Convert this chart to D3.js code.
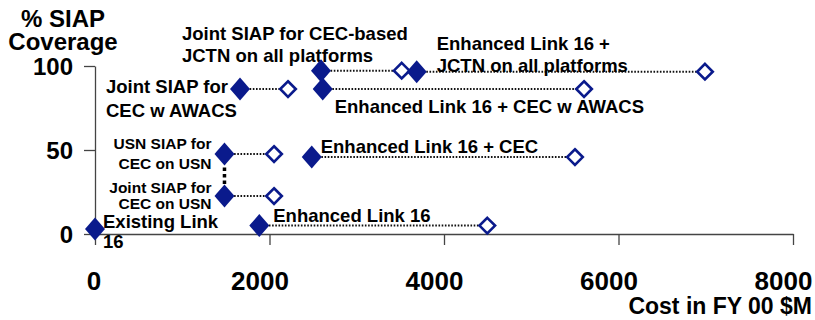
<!DOCTYPE html>
<html>
<head>
<meta charset="utf-8">
<script src="https://cdn.jsdelivr.net/npm/d3@7"></script>
<style>
  body { margin: 0; background: #fff; }
  text { font-family: "Liberation Sans", Arial, sans-serif; font-weight: bold; fill: #000; }
</style>
</head>
<body>
<svg id="chart" width="815" height="320"></svg>
<script>
// options, cost in FY00 $M and % SIAP coverage
const options = ["Existing Link 16", "Enhanced Link 16", "Joint SIAP CEC USN", "USN SIAP CEC USN",
    "Enhanced Link 16 + CEC", "Joint SIAP CEC AWACS", "Enhanced Link 16 + CEC AWACS",
    "Joint SIAP CEC JCTN", "Enhanced Link 16 + JCTN"];
const baseCost    = [0, 1883, 1484, 1484, 2484, 1662, 2610, 2590, 3687];
const upgradeCost = [null, 4496, 2052, 2052, 5501, 2212, 5605, 3515, 6991];
const coverage    = [3, 5, 22.6, 47.6, 45.8, 86.3, 86.3, 97.2, 96.6];
const labelLines = [
    ["Existing Link", "16"],
    ["Enhanced Link 16"],
    ["Joint SIAP for", "CEC on USN"],
    ["USN SIAP for", "CEC on USN"],
    ["Enhanced Link 16 + CEC"],
    ["Joint SIAP for", "CEC w AWACS"],
    ["Enhanced Link 16 + CEC w AWACS"],
    ["Joint SIAP for CEC-based", "JCTN on all platforms"],
    ["Enhanced Link 16 +", "JCTN on all platforms"]
];
// the two USN options are joined by a heavy dotted link
const linkedPair = [2, 3];

const xTicks = [0, 2000, 4000, 6000, 8000];
const yTicks = [0, 50, 100];

// label placement relative to the filled marker (dx, dy of first baseline, line height)
const labelLayout = [
    { dx: 8, dy: -0.5, lh: 20, anchor: "start", size: 18.5 },
    { dx: 14, dy: -3.5, lh: 20, anchor: "start", size: 18.5 },
    { dx: -13, dy: -3, lh: 16, anchor: "end", size: 15.5 },
    { dx: -13, dy: -5, lh: 20, anchor: "end", size: 15.5 },
    { dx: 9, dy: -4, lh: 20, anchor: "start", size: 18.5 },
    { dx: -134, dy: 4, lh: 23.5, anchor: "start", size: 18.5 },
    { dx: 12, dy: 24, lh: 20, anchor: "start", size: 18.5 },
    { dx: -139, dy: -30.5, lh: 22, anchor: "start", size: 18.5 },
    { dx: 20, dy: -21.5, lh: 22, anchor: "start", size: 18.5 }
];

const navy = "#0a1a8c";

const svg = d3.select("#chart");

const x = d3.scaleLinear().domain([0, 8000]).range([95, 793]);
const y = d3.scaleLinear().domain([0, 100]).range([234, 66]);

function diamond(cx, cy, hw, hh) {
    return `M${cx},${cy - hh}L${cx + hw},${cy}L${cx},${cy + hh}L${cx - hw},${cy}Z`;
}

// axes
const xAxisG = svg.append("g")
    .attr("transform", `translate(0,${y(0)})`)
    .call(d3.axisBottom(x).tickValues(xTicks).tickSize(11).tickSizeOuter(0).tickFormat(d3.format("d")));
const yAxisG = svg.append("g")
    .attr("transform", `translate(${x(0)},0)`)
    .call(d3.axisLeft(y).tickValues(yTicks).tickSize(11).tickPadding(11).tickSizeOuter(0));

[xAxisG, yAxisG].forEach(g => {
    g.attr("font-family", null).attr("font-size", null);
    g.selectAll("path, line").attr("stroke", "#444").attr("stroke-width", 1.3);
});
xAxisG.selectAll(".tick text")
    .attr("y", 56).attr("dy", 0)
    .attr("dx", d => d === 0 ? -1.5 : -10)
    .style("font-size", "26px");
yAxisG.selectAll(".tick text")
    .attr("dy", "0.36em")
    .style("font-size", "24px");

// axis titles
svg.append("text")
    .attr("x", 63).attr("y", 27)
    .attr("text-anchor", "middle")
    .style("font-size", "24px")
    .text("% SIAP");
svg.append("text")
    .attr("x", 63).attr("y", 50)
    .attr("text-anchor", "middle")
    .style("font-size", "24px")
    .text("Coverage");
svg.append("text")
    .attr("x", 812).attr("y", 314)
    .attr("text-anchor", "end")
    .style("font-size", "23px")
    .text("Cost in FY 00 $M");

const idx = d3.range(options.length);
const upg = idx.filter(i => upgradeCost[i] !== null);

// dotted links from baseline option to upgraded option
svg.append("g").selectAll("line")
    .data(upg)
    .enter()
    .append("line")
    .attr("x1", i => x(baseCost[i]))
    .attr("x2", i => x(upgradeCost[i]) - 8)
    .attr("y1", i => y(coverage[i]))
    .attr("y2", i => y(coverage[i]))
    .attr("stroke", "#111")
    .attr("stroke-width", 2)
    .attr("stroke-dasharray", "1.6,1.6");

svg.append("line")
    .attr("x1", x(baseCost[linkedPair[0]]))
    .attr("x2", x(baseCost[linkedPair[1]]))
    .attr("y1", y(coverage[linkedPair[0]]) - 12)
    .attr("y2", y(coverage[linkedPair[1]]) + 12)
    .attr("stroke", "#000")
    .attr("stroke-width", 3.5)
    .attr("stroke-dasharray", "3.5,3");

// labels
const labels = svg.append("g").selectAll("text")
    .data(idx)
    .enter()
    .append("text")
    .attr("text-anchor", i => labelLayout[i].anchor)
    .style("font-size", i => labelLayout[i].size + "px");
labels.each(function (i) {
    const L = labelLayout[i];
    const px = x(baseCost[i]) + L.dx;
    const py = y(coverage[i]) + L.dy;
    d3.select(this).selectAll("tspan")
        .data(labelLines[i])
        .enter()
        .append("tspan")
        .attr("x", px)
        .attr("y", (d, k) => py + k * L.lh)
        .text(d => d);
});

// hollow markers: upgraded cost
svg.append("g").selectAll("path")
    .data(upg)
    .enter()
    .append("path")
    .attr("d", i => diamond(x(upgradeCost[i]), y(coverage[i]), 7.8, 7.8))
    .attr("fill", "#fff")
    .attr("stroke", navy)
    .attr("stroke-width", 2.6);

// filled markers: base cost
svg.append("g").selectAll("path")
    .data(idx)
    .enter()
    .append("path")
    .attr("d", i => diamond(x(baseCost[i]), y(coverage[i]), 10, 11.5))
    .attr("fill", navy);
</script>
</body>
</html>
